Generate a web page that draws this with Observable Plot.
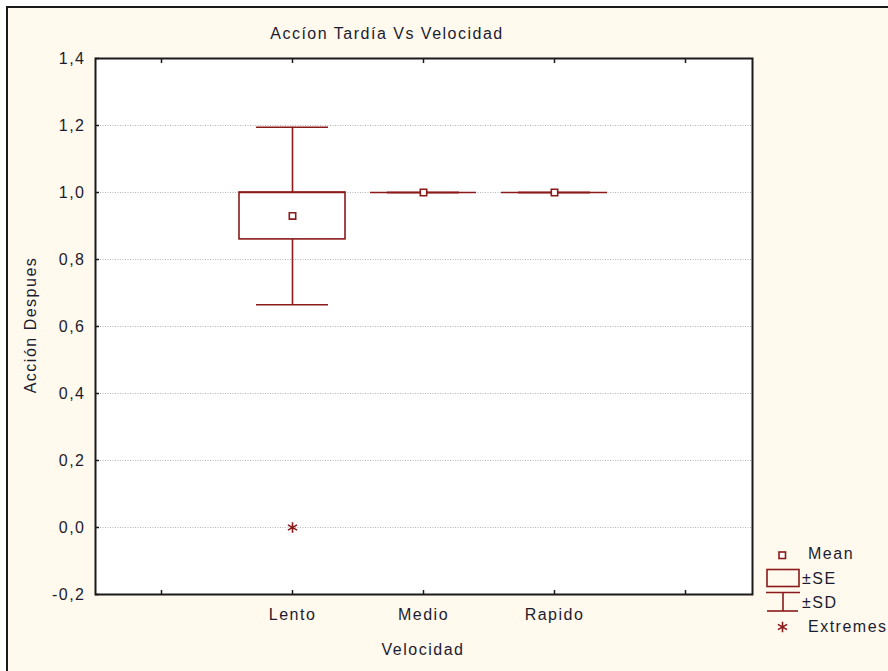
<!DOCTYPE html>
<html>
<head>
<meta charset="utf-8">
<script src="https://cdn.jsdelivr.net/npm/d3@7"></script>
<script src="https://cdn.jsdelivr.net/npm/@observablehq/plot@0.6"></script>
<style>
  html, body { margin: 0; padding: 0; background: #ffffff; }
  #wrap { position: relative; width: 888px; height: 671px; overflow: hidden; background: #ffffff;
          font-family: "Liberation Sans", Arial, sans-serif; color: #1c1c30; }
  #panel { position: absolute; left: 6px; top: 6px; right: 0; bottom: 0; background: #FFF9EE;
           border-top: 2px solid #1a1a1a; border-left: 2px solid #1a1a1a; }
  #chart { position: absolute; left: 0; top: 0; }
  #chart svg text, #legend text { letter-spacing: 1.5px; }
  .lbl { position: absolute; font-size: 16px; letter-spacing: 1.5px; white-space: nowrap; color: #1c1c30; }
  #legend { position: absolute; left: 0; top: 0; }
</style>
</head>
<body>
<div id="wrap">
  <div id="panel"></div>
  <div id="chart"></div>
  <div class="lbl" id="title" style="left:387px; top:34px; transform:translate(-50%,-50%);">Accíon Tardía Vs Velocidad</div>
  <div class="lbl" id="ylab" style="left:31px; top:325px; transform:translate(-50%,-50%) rotate(-90deg);">Acción Despues</div>
  <div class="lbl" id="xlab" style="left:423px; top:650px; transform:translate(-50%,-50%);">Velocidad</div>
  <svg id="legend" width="888" height="671"></svg>
</div>
<script>
// ---- data ----
const slots = ["", "Lento", "Medio", "Rapido", " "];
const groups = ["Lento", "Medio", "Rapido"];
const means = [0.93, 1.0, 1.0];
const seValues = [0.07, 0.0, 0.0];
const sdValues = [0.265, 0.0, 0.0];
const extremeGroups = ["Lento"];
const extremeValues = [0.0];
const yTicks = [-0.2, 0.0, 0.2, 0.4, 0.6, 0.8, 1.0, 1.2, 1.4];
const gridTicks = [0.0, 0.2, 0.4, 0.6, 0.8, 1.0, 1.2];
const legendLabels = ["Mean", "±SE", "±SD", "Extremes"];

const RED = "#8b1a1a";
const TXT = "#1c1c30";

const stats = groups.map((g, i) => ({
  g, mean: means[i],
  seLo: means[i] - seValues[i], seHi: means[i] + seValues[i],
  sdLo: means[i] - sdValues[i], sdHi: means[i] + sdValues[i]
}));
const extremes = extremeGroups.map((g, i) => ({g, v: extremeValues[i]}));
const fmt = d => d.toFixed(1).replace(".", ",");

const chart = Plot.plot({
  width: 888, height: 671,
  marginLeft: 95, marginRight: 136, marginTop: 58, marginBottom: 77,
  style: {background: "transparent", fontFamily: "'Liberation Sans', Arial, sans-serif", fontSize: "16px", color: TXT, overflow: "visible"},
  x: {type: "band", domain: slots, paddingInner: 0.19, paddingOuter: 0.095, axis: null},
  y: {domain: [-0.2, 1.4], axis: null},
  marks: [
    Plot.frame({fill: "white", stroke: null}),
    Plot.gridY(gridTicks, {stroke: "#b4b4b4", strokeOpacity: 1, strokeDasharray: "1,1.5"}),
    // inward ticks
    Plot.axisY(yTicks, {anchor: "left", tickSize: 4, dx: 4, fill: "none", label: null, stroke: "#1a1a1a", strokeWidth: 1.5}),
    Plot.axisX({anchor: "bottom", tickSize: 4, dy: -4, fill: "none", label: null, stroke: "#1a1a1a", strokeWidth: 1.5}),
    Plot.axisX({anchor: "top", tickSize: 4, dy: 4, fill: "none", label: null, stroke: "#1a1a1a", strokeWidth: 1.5}),
    // tick labels
    Plot.axisY(yTicks, {anchor: "left", tickSize: 0, tickPadding: 10, tickFormat: fmt, label: null, fill: TXT, fontSize: 16}),
    Plot.axisX({anchor: "bottom", tickSize: 0, tickPadding: 14, tickFormat: d => d.trim(), label: null, fill: TXT, fontSize: 16}),
    // SD whiskers
    Plot.ruleX(stats, {x: "g", y1: "seHi", y2: "sdHi", stroke: RED, strokeWidth: 1.6}),
    Plot.ruleX(stats, {x: "g", y1: "seLo", y2: "sdLo", stroke: RED, strokeWidth: 1.6}),
    Plot.tickY(stats, {x: "g", y: "sdHi", stroke: RED, strokeWidth: 1.6, insetLeft: 17, insetRight: 17}),
    Plot.tickY(stats, {x: "g", y: "sdLo", stroke: RED, strokeWidth: 1.6, insetLeft: 17, insetRight: 17}),
    // SE box
    Plot.barY(stats, {x: "g", y1: "seLo", y2: "seHi", fill: "white", stroke: RED, strokeWidth: 1.6}),
    Plot.tickY(stats, {x: "g", y: "seHi", stroke: RED, strokeWidth: 1.6}),
    // mean
    Plot.dot(stats, {x: "g", y: "mean", symbol: "square", r: 3.6, fill: "white", stroke: RED, strokeWidth: 1.6}),
    // extremes
    Plot.dot(extremes, {x: "g", y: "v", symbol: "asterisk", r: 5, stroke: RED, strokeWidth: 1.6}),
    // plot frame
    Plot.frame({stroke: "#1a1a1a", strokeWidth: 2})
  ]
});
document.getElementById("chart").appendChild(chart);

// ---- legend (decoration, drawn beside the plot) ----
const lg = d3.select("#legend");
const sw = 1.6;
// Mean
lg.append("rect").attr("x", 779).attr("y", 552).attr("width", 6.5).attr("height", 6.5)
  .attr("fill", "white").attr("stroke", RED).attr("stroke-width", sw);
// SE box
lg.append("rect").attr("x", 767).attr("y", 569.5).attr("width", 32).attr("height", 17)
  .attr("fill", "none").attr("stroke", RED).attr("stroke-width", sw);
// SD whisker
lg.append("line").attr("x1", 766).attr("x2", 800).attr("y1", 592.5).attr("y2", 592.5).attr("stroke", RED).attr("stroke-width", sw);
lg.append("line").attr("x1", 783).attr("x2", 783).attr("y1", 592.5).attr("y2", 611).attr("stroke", RED).attr("stroke-width", sw);
lg.append("line").attr("x1", 767).attr("x2", 798).attr("y1", 611).attr("y2", 611).attr("stroke", RED).attr("stroke-width", sw);
// Extremes
lg.append("path").attr("transform", "translate(782.5,627)")
  .attr("d", d3.symbol(d3.symbolAsterisk, Math.PI * 5 * 5)())
  .attr("fill", "none").attr("stroke", RED).attr("stroke-width", 1.6);
const lx = [808, 802, 802, 808];
const ly = [553, 578, 602, 626];
legendLabels.forEach((t, i) => {
  lg.append("text").attr("x", lx[i]).attr("y", ly[i]).attr("dy", "0.35em")
    .attr("font-family", "'Liberation Sans', Arial, sans-serif").attr("font-size", 16)
    .attr("fill", TXT).text(t);
});
</script>
</body>
</html>
